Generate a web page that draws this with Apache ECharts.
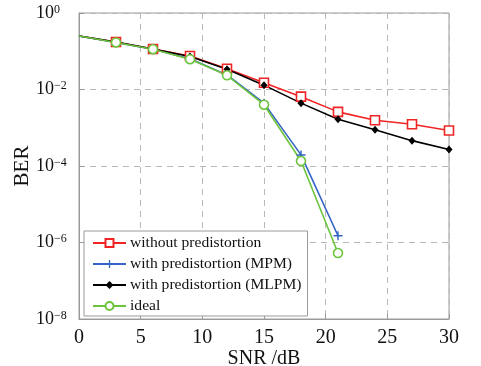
<!DOCTYPE html>
<html><head><meta charset="utf-8">
<script src="https://cdn.jsdelivr.net/npm/echarts@6/dist/echarts.min.js"></script>
<style>html,body{margin:0;padding:0;background:#fff}#c{width:481px;height:366px}</style>
</head><body><div id="c"></div>
<script>
const snr = [0, 3, 6, 9, 12, 15, 18, 21, 24, 27, 30];
const noPD = [0.25, 0.175, 0.115, 0.075, 0.035, 0.015, 0.0065, 0.0026, 0.00157, 0.00123, 0.00085];
const mpm = [0.25, 0.17, 0.113, 0.064, 0.024, 0.0044, 0.000195, 1.5e-6];
const mlpm = [0.25, 0.175, 0.115, 0.073, 0.034, 0.013, 0.0044, 0.00166, 0.00089, 0.00046, 0.00027];
const ideal = [0.25, 0.17, 0.113, 0.062, 0.0235, 0.0040, 0.000135, 5.3e-7];
const names = ['without predistortion', 'with predistortion (MPM)', 'with predistortion (MLPM)', 'ideal'];

const FONT = 'Liberation Serif';
function pts(arr) {
  return arr.map((v, i) => i === 0 ? {value: [snr[i], v], symbol: 'none'} : [snr[i], v]);
}
const plus = 'path://M4.2,0H5.8V4.2H10V5.8H5.8V10H4.2V5.8H0V4.2H4.2Z';
const chart = echarts.init(document.getElementById('c'));
chart.setOption({
  backgroundColor: '#fff',
  animation: false,
  grid: {left: 79, right: 32, top: 13, bottom: 47, show: true, borderColor: '#9a9a9a', borderWidth: 1,
    containLabel: false, outerBoundsMode: 'none'},
  xAxis: {
    type: 'value', min: 0, max: 30, interval: 5,
    name: 'SNR /dB', nameLocation: 'middle', nameGap: 30, nameMoveOverlap: false,
    nameTextStyle: {fontFamily: FONT, fontSize: 20, color: '#111'},
    axisLine: {lineStyle: {color: '#9a9a9a'}},
    axisTick: {inside: true, length: 5, lineStyle: {color: '#9a9a9a'}},
    axisLabel: {fontFamily: FONT, fontSize: 20, color: '#111', margin: 9},
    splitLine: {show: true, lineStyle: {color: '#b8b8b8', type: [6, 5]}}
  },
  yAxis: {
    type: 'log', logBase: 10, min: 1e-8, max: 1, interval: 2,
    name: 'BER', nameLocation: 'middle', nameGap: 46, nameMoveOverlap: false,
    nameTextStyle: {fontFamily: FONT, fontSize: 21, color: '#111'},
    axisLine: {lineStyle: {color: '#9a9a9a'}},
    axisTick: {inside: true, length: 5, lineStyle: {color: '#9a9a9a'}},
    axisLabel: {
      margin: 43, align: 'left',
      formatter: v => {
        const e = Math.round(Math.log10(v));
        return '{b|10}{s|' + (e < 0 ? '\u2212' + (-e) : e) + '}';
      },
      rich: {
        b: {fontFamily: FONT, fontSize: 18, color: '#111'},
        s: {fontFamily: FONT, fontSize: 12, color: '#111', verticalAlign: 'bottom', padding: [0, 0, 7, 0]}
      }
    },
    splitLine: {show: true, lineStyle: {color: '#b8b8b8', type: [6, 5]}}
  },
  legend: {
    orient: 'vertical', left: 84, top: 231,
    padding: [4, 6, 2, 8],
    itemWidth: 33, itemHeight: 10, itemGap: 5,
    backgroundColor: '#fff',
    borderColor: '#9a9a9a', borderWidth: 1, borderRadius: 0,
    textStyle: {fontFamily: FONT, fontSize: 15.6, color: '#111', padding: [0, 0, 0, -1]},
    data: names
  },
  series: [
    {name: names[0], type: 'line', data: pts(noPD), symbol: 'rect', symbolSize: 9,
      lineStyle: {color: '#f02424', width: 1.6},
      itemStyle: {color: '#fff', borderColor: '#f02424', borderWidth: 1.6}},
    {name: names[1], type: 'line', data: pts(mpm), symbol: plus, symbolSize: 9,
      lineStyle: {color: '#3464c4', width: 1.6},
      itemStyle: {color: '#3464c4', borderWidth: 0}},
    {name: names[2], type: 'line', data: pts(mlpm), symbol: 'diamond', symbolSize: [7, 8],
      lineStyle: {color: '#000', width: 1.6},
      itemStyle: {color: '#000', borderWidth: 0}},
    {name: names[3], type: 'line', data: pts(ideal), symbol: 'circle', symbolSize: 9,
      lineStyle: {color: '#6cc43c', width: 1.6},
      itemStyle: {color: '#fff', borderColor: '#6cc43c', borderWidth: 1.6}}
  ]
});
</script></body></html>
